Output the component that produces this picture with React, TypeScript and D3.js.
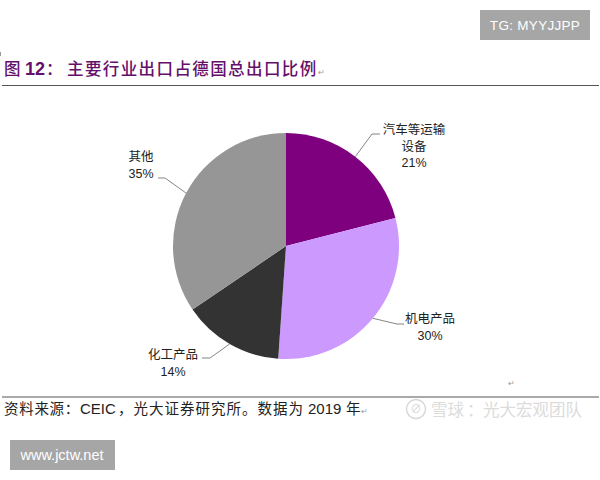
import React from "react";
import * as d3 from "d3";

const categories = ["汽车等运输设备", "机电产品", "化工产品", "其他"];
const values = [21.0, 30.1, 14.4, 34.5];
const percentLabels = ["21%", "30%", "14%", "35%"];
const colors = ["#7f007f", "#cc99ff", "#333333", "#969696"];
const labelLines = [["汽车等运输", "设备", "21%"], ["机电产品", "30%"], ["化工产品", "14%"], ["其他", "35%"]];
const labelAnchors: [number, number][] = [[414, 134], [430, 323], [173, 359], [141, 161]];
const elbows: [number, number][][] = [
  [[372, 134], [380, 134]],
  [[397, 324], [404, 324]],
  [[210, 358], [202, 358]],
  [[165, 178], [158, 178]],
];

const CJK = "'Noto Sans CJK SC', 'Liberation Sans', sans-serif";
const LATIN = "'Liberation Sans', 'Noto Sans CJK SC', sans-serif";

export default function App() {
  const cx = 286, cy = 246, R = 113;
  const pie = d3.pie<number>().sort(null).value((d) => d);
  const arcs = pie(values);
  const arc = d3.arc<d3.PieArcDatum<number>>().innerRadius(0).outerRadius(R);
  const rim = d3.arc<d3.PieArcDatum<number>>().innerRadius(R).outerRadius(R);
  const line = d3.line();
  return (
    <svg width={600} height={480} style={{ position: "absolute", left: 0, top: 0, background: "#fff" }}>
      {/* corner badges */}
      <rect x={480} y={10} width={110} height={30} fill="#a6a6a6" />
      <text x={535} y={30} textAnchor="middle" fontFamily={LATIN} fontSize={13.5} fill="#fff" letterSpacing={0.3}>TG: MYYJJPP</text>
      <rect x={10} y={440} width={105} height={30} fill="#a6a6a6" />
      <text x={62} y={460} textAnchor="middle" fontFamily={LATIN} fontSize={14.5} fill="#fff">www.jctw.net</text>

      {/* title */}
      <rect x={0} y={52} width={1} height={4} fill="#999" />
      <text y={75} fontFamily={CJK} fontWeight={500} fill="#650f6b">
        <tspan x={4} fontSize={16.5}>图</tspan>
        <tspan x={25} fontFamily={LATIN} fontWeight="bold" fontSize={18}>12</tspan>
        <tspan x={46} fontSize={16.5}>：</tspan>
        <tspan x={67} fontSize={16.5} letterSpacing={1.4}>主要行业出口占德国总出口比例</tspan>
      </text>
      <text x={318} y={75} fontFamily={LATIN} fontSize={8} fill="#999">↵</text>
      <line x1={2} x2={599} y1={85.5} y2={85.5} stroke="#555" strokeWidth={1} />

      {/* pie */}
      <g transform={`translate(${cx},${cy})`}>
        {arcs.map((a, i) => (
          <path key={categories[i]} d={arc(a) ?? ""} fill={colors[i]} />
        ))}
      </g>

      {/* leader lines */}
      {arcs.map((a, i) => {
        const [dx, dy] = rim.centroid(a);
        return (
          <path
            key={percentLabels[i]}
            d={line([[cx + dx, cy + dy], ...elbows[i]]) ?? ""}
            fill="none"
            stroke="#666"
            strokeWidth={0.8}
          />
        );
      })}

      {/* labels */}
      {labelLines.map((lines, i) => (
        <text key={i} textAnchor="middle" fontSize={12.5} fill="#222" fontFamily={CJK}>
          {lines.map((t, j) => (
            <tspan key={j} x={labelAnchors[i][0]} y={labelAnchors[i][1] + j * 16.5}
              fontFamily={t.includes("%") ? LATIN : CJK}>{t}</tspan>
          ))}
        </text>
      ))}

      <text x={511} y={386} fontFamily={LATIN} fontSize={8} fill="#999" textAnchor="middle">↵</text>

      {/* footer */}
      <line x1={2} x2={599} y1={397} y2={397} stroke="#555" strokeWidth={1} />
      <text y={414} fontFamily={CJK} fontSize={14.5} fill="#222">
        <tspan x={4} letterSpacing={0.7}>资料来源：</tspan>
        <tspan x={80} fontFamily={LATIN} fontSize={15}>CEIC</tspan>
        <tspan x={118} letterSpacing={1}>，光大证券研究所。数据为</tspan>
        <tspan x={308} fontFamily={LATIN} fontSize={15}>2019</tspan>
        <tspan x={346}>年</tspan>
      </text>
      <text x={361} y={414} fontFamily={LATIN} fontSize={8} fill="#999">↵</text>

      {/* watermark */}
      <circle cx={416} cy={409} r={9.5} fill="none" stroke="#d8d8d8" strokeWidth={1.5} />
      <text x={416} y={413} textAnchor="middle" fontFamily={LATIN} fontSize={11} fill="#d8d8d8">∅</text>
      <text y={416} fontFamily={CJK} fontSize={16.5} fill="#dcdcdc">
        <tspan x={431}>雪球</tspan>
        <tspan x={467}>：</tspan>
        <tspan x={483}>光大宏观团队</tspan>
      </text>
    </svg>
  );
}
